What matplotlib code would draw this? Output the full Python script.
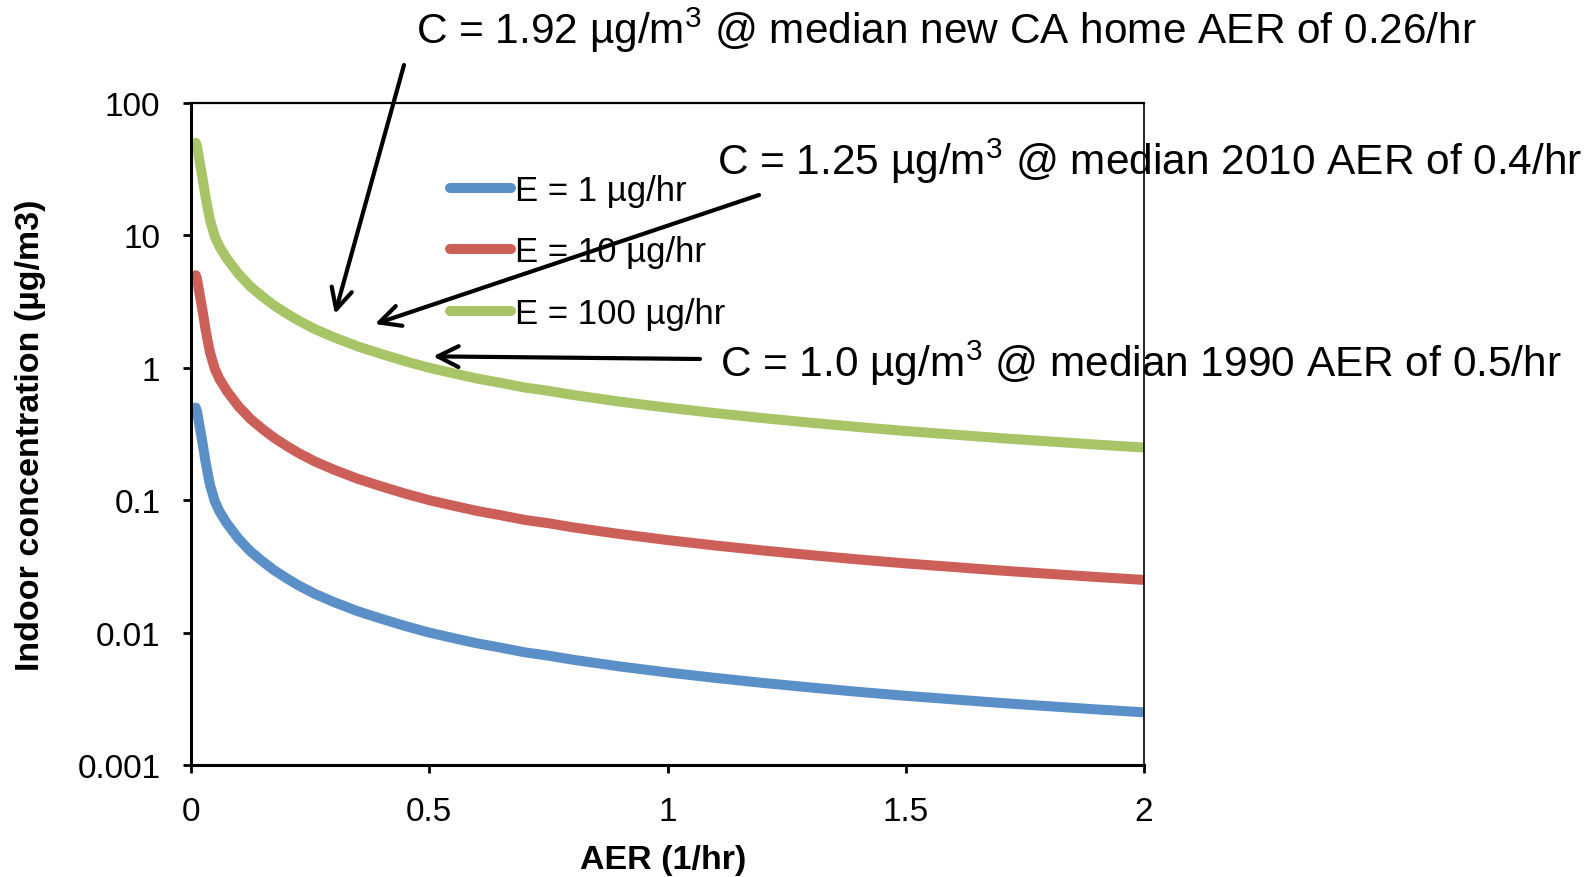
import matplotlib
matplotlib.use('Agg')
import matplotlib.pyplot as plt
from matplotlib.ticker import NullLocator

plt.rcParams['font.family'] = ['Liberation Sans', 'DejaVu Sans']
plt.rcParams['mathtext.fontset'] = 'custom'
plt.rcParams['mathtext.rm'] = 'Liberation Sans'

# values
aer = [0.01, 0.0125, 0.015, 0.0175, 0.02, 0.025, 0.03, 0.035, 0.04, 0.05, 0.06, 0.075,
       0.1, 0.125, 0.15, 0.175, 0.2, 0.225, 0.26, 0.3, 0.35, 0.4, 0.45, 0.5,
       0.55, 0.6, 0.65, 0.7, 0.75, 0.8, 0.9, 1.0, 1.1, 1.2, 1.3, 1.4,
       1.5, 1.6, 1.7, 1.8, 1.9, 2.0]
conc_e1 = [0.5, 0.47, 0.42, 0.37, 0.33, 0.26, 0.2, 0.16, 0.13, 0.098, 0.082, 0.067,
           0.051, 0.041, 0.0345, 0.0295, 0.0258, 0.0228, 0.0196, 0.017, 0.0145, 0.0127, 0.0112, 0.01,
           0.0091, 0.0083, 0.0077, 0.0071, 0.0067, 0.00625, 0.00555, 0.005, 0.00455, 0.00417, 0.00385, 0.00357,
           0.00333, 0.00313, 0.00294, 0.00278, 0.00263, 0.0025]
conc_e10 = [5.0, 4.7, 4.2, 3.7, 3.3, 2.6, 2.0, 1.6, 1.3, 0.98, 0.82, 0.67,
            0.51, 0.41, 0.345, 0.295, 0.258, 0.228, 0.196, 0.17, 0.145, 0.127, 0.112, 0.1,
            0.091, 0.083, 0.077, 0.071, 0.067, 0.0625, 0.0555, 0.05, 0.0455, 0.0417, 0.0385, 0.0357,
            0.0333, 0.0313, 0.0294, 0.0278, 0.0263, 0.025]
conc_e100 = [50, 47, 42, 37, 33, 26, 20, 16, 13, 9.8, 8.2, 6.7,
             5.1, 4.1, 3.45, 2.95, 2.58, 2.28, 1.96, 1.7, 1.45, 1.27, 1.12, 1.0,
             0.91, 0.83, 0.77, 0.71, 0.67, 0.625, 0.555, 0.5, 0.455, 0.417, 0.385, 0.357,
             0.333, 0.313, 0.294, 0.278, 0.263, 0.25]
series_labels = ['E = 1 µg/hr', 'E = 10 µg/hr', 'E = 100 µg/hr']
colors = ['#5A8FC8', '#CC6059', '#A7C467']

xticks = [0, 0.5, 1, 1.5, 2]
xticklabels = ['0', '0.5', '1', '1.5', '2']
yticks = [0.001, 0.01, 0.1, 1, 10, 100]
yticklabels = ['0.001', '0.01', '0.1', '1', '10', '100']

notes = [r'C = 1.92 µg/m$^\mathrm{3}$ @ median new CA home AER of 0.26/hr',
         r'C = 1.25 µg/m$^\mathrm{3}$ @ median 2010 AER of 0.4/hr',
         r'C = 1.0 µg/m$^\mathrm{3}$ @ median 1990 AER of 0.5/hr']
note_tips = [(0.302, 2.55), (0.386, 2.14), (0.508, 1.22)]

W, H = 1591, 878
fig = plt.figure(figsize=(W / 100, H / 100), dpi=100)
ax = fig.add_axes([191 / W, 1 - 766 / H, (1144 - 191) / W, (766 - 104) / H])

for c, lab, col in zip([conc_e1, conc_e10, conc_e100], series_labels, colors):
    ax.plot(aer, c, color=col, lw=7.2, solid_capstyle='round',
            solid_joinstyle='round', label=lab)

ax.set_yscale('log')
ax.set_xlim(0, 2)
ax.set_ylim(0.001, 100)
ax.set_xticks(xticks)
ax.set_xticklabels(xticklabels)
ax.set_yticks(yticks)
ax.set_yticklabels(yticklabels)
ax.yaxis.set_minor_locator(NullLocator())
ax.tick_params(direction='out', length=6, width=2, labelsize=24, pad=16)

ax.spines['left'].set_linewidth(2.2)
ax.spines['bottom'].set_linewidth(2.2)
ax.spines['top'].set_linewidth(1.6)
ax.spines['right'].set_linewidth(1.2)

ax.set_xlabel('AER (1/hr)', fontsize=24.5, fontweight='bold')
ax.set_ylabel('Indoor concentration (µg/m3)', fontsize=24.5, fontweight='bold')
ax.xaxis.set_label_coords(0.495, -0.119)
ax.yaxis.set_label_coords(-0.152, 0.5)

leg = ax.legend(loc='upper left', bbox_to_anchor=(450 / W, 1 - 175 / H),
                bbox_transform=fig.transFigure, frameon=False, fontsize=25,
                handlelength=1.75, handletextpad=0.12, labelspacing=0.82,
                borderpad=0, borderaxespad=0)
for h in leg.get_lines():
    h.set_linewidth(7.2)
    h.set_solid_capstyle('round')

# annotation texts, baseline positions in pixels from the top-left
text_pos = [(416, 44), (717, 175), (720, 377)]
for t, (x, y) in zip(notes, text_pos):
    fig.text(x / W, 1 - y / H, t, fontsize=30.5, ha='left', va='baseline')

tails = [(404, 66), (759, 196), (700, 360)]
for tip, (x, y) in zip(note_tips, tails):
    ax.annotate('', xy=tip, xycoords='data', xytext=(x, H - y),
                textcoords='figure pixels', annotation_clip=False,
                arrowprops=dict(arrowstyle='->,head_length=1.0,head_width=0.5',
                                lw=3.0, color='black', mutation_scale=15,
                                shrinkA=0, shrinkB=0))

fig.savefig('out.png', dpi=100)
